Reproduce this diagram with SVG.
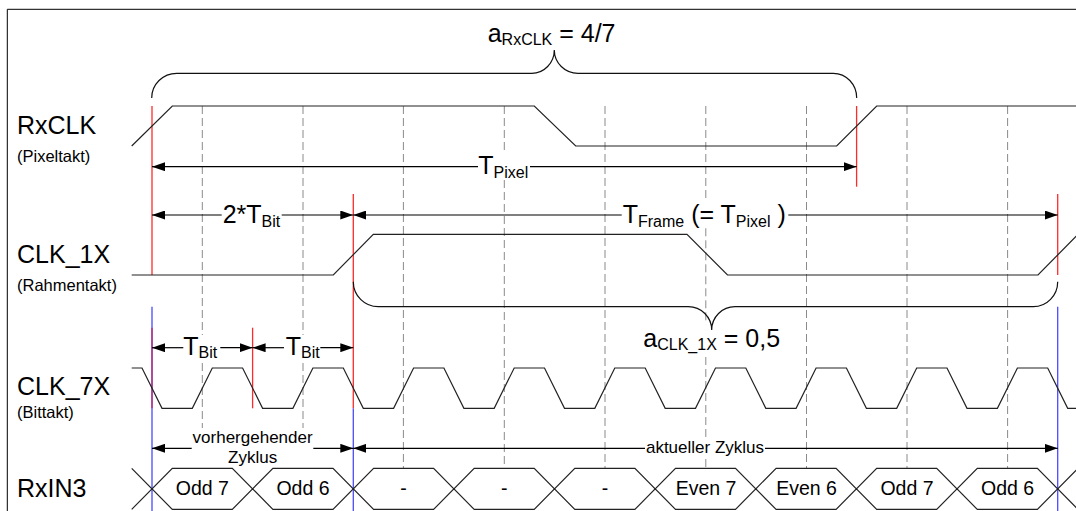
<svg xmlns="http://www.w3.org/2000/svg" width="1076" height="511" viewBox="0 0 1076 511">
<style>
text{font-family:"Liberation Sans",Arial,sans-serif;fill:#000}
.big{font-size:25px}
.sm{font-size:16.5px}
.sub{font-size:16px}
.mid{font-size:17px}
.hex{font-size:19.5px}
.sig{fill:none;stroke:#222;stroke-width:1.2;stroke-linejoin:miter}
.grid{fill:none;stroke:#8a8a8a;stroke-width:1;stroke-dasharray:8 4}
.red{stroke:#ff2a2a;stroke-width:1.3;fill:none}
.blue{stroke:#4a4aff;stroke-width:1.3;fill:none}
.mix{stroke:#c02a6a;stroke-width:1.3;fill:none}
.arr{stroke:#000;stroke-width:1.2;fill:none;marker-end:url(#ah)}
.brace{stroke:#111;stroke-width:1.2;fill:none}
</style>
<defs>
<marker id="ah" markerWidth="13" markerHeight="9" refX="13" refY="4.5" orient="auto" markerUnits="userSpaceOnUse">
<path d="M0,0 L13,4.5 L0,9 z" fill="#000"/>
</marker>
</defs>
<rect width="1076" height="511" fill="#fff"/>
<path d="M7.3,515 V9.3 H1080" fill="none" stroke="#000" stroke-width="1"/>

<g id="grid">
<path class="grid" d="M202.3,106 V335 M202.3,363 V428"/>
<path class="grid" d="M303,106 V335 M303,363 V428"/>
<path class="grid" d="M403.4,106 V468.3"/>
<path class="grid" d="M504.3,106 V150 M504.3,180 V468.3"/>
<path class="grid" d="M605,106 V468.3"/>
<path class="grid" d="M705.8,106 V201.7 M705.8,228.3 V323 M705.8,357 V438 M705.8,459 V468.3"/>
<path class="grid" d="M806.5,106 V468.3"/>
<path class="grid" d="M907,106 V468.3"/>
<path class="grid" d="M1007.6,106 V468.3"/>
</g>

<g id="markers-vertical">
<path class="blue" d="M152,306.7 V511"/>
<path class="blue" d="M353.3,408.3 V511"/>
<path class="blue" d="M1057.7,306.7 V511"/>
<path class="red" d="M152,106 V275"/>
<path class="mix" d="M152,327.7 V408.3"/>
<path class="red" d="M252.6,327.7 V408.3"/>
<path class="red" d="M353.3,194 V408.3"/>
<path class="red" d="M856.6,106 V186.7"/>
<path class="red" d="M1057.7,194 V275"/>
</g>

<g id="rxclk">
<text class="big" x="17" y="134">RxCLK</text>
<text class="sm" x="17" y="161.5">(Pixeltakt)</text>
<path class="sig" d="M131.7,146 L172.3,106 H534.3 L575.7,146 H836.7 L876.7,106 H1080"/>
</g>

<g id="clk1x">
<text class="big" x="17" y="263.3">CLK_1X</text>
<text class="sm" x="17" y="290.5">(Rahmentakt)</text>
<path class="sig" d="M131.7,275 H333.3 L373.3,234.3 H687 L727.5,275 H1038 L1078,234.3"/>
</g>

<g id="clk7x">
<text class="big" x="17" y="395">CLK_7X</text>
<text class="sm" x="17" y="418.3">(Bittakt)</text>
<path class="sig" d="M131.7,368 H142 L162,408.3 H192.3 L212.3,368 H242.6 L262.6,408.3 H292.9 L312.9,368 H343.3 L363.3,408.3 H393.6 L413.6,368 H443.9 L463.9,408.3 H494.2 L514.2,368 H544.5 L564.5,408.3 H594.8 L614.8,368 H645.2 L665.2,408.3 H695.5 L715.5,368 H745.8 L765.8,408.3 H796.1 L816.1,368 H846.4 L866.4,408.3 H896.7 L916.7,368 H947 L967,408.3 H997.4 L1017.4,368 H1047.7 L1067.7,408.3 H1080"/>
</g>

<g id="rxin3">
<text class="big" x="17" y="496.7">RxIN3</text>
<path class="sig" d="M131.7,468.3 L152,488.8 L172.3,468.3 H232.3 L252.6,488.8 L272.9,468.3 H333 L353.3,488.8 L373.6,468.3 H433.6 L453.9,488.8 L474.2,468.3 H534.2 L554.5,488.8 L574.8,468.3 H634.9 L655.2,488.8 L675.5,468.3 H735.5 L755.8,488.8 L776.1,468.3 H836.1 L856.4,488.8 L876.7,468.3 H936.7 L957,488.8 L977.3,468.3 H1037.4 L1057.7,488.8 L1078,468.3"/>
<path class="sig" d="M131.7,509.3 L152,488.8 L172.3,509.3 H232.3 L252.6,488.8 L272.9,509.3 H333 L353.3,488.8 L373.6,509.3 H433.6 L453.9,488.8 L474.2,509.3 H534.2 L554.5,488.8 L574.8,509.3 H634.9 L655.2,488.8 L675.5,509.3 H735.5 L755.8,488.8 L776.1,509.3 H836.1 L856.4,488.8 L876.7,509.3 H936.7 L957,488.8 L977.3,509.3 H1037.4 L1057.7,488.8 L1078,509.3"/>
<g text-anchor="middle" class="hex">
<text x="202.3" y="495">Odd 7</text>
<text x="303" y="495">Odd 6</text>
<text x="403.4" y="495">-</text>
<text x="504.3" y="495">-</text>
<text x="605" y="495">-</text>
<text x="706" y="495">Even 7</text>
<text x="806.5" y="495">Even 6</text>
<text x="907" y="495">Odd 7</text>
<text x="1007.6" y="495">Odd 6</text>
</g>
</g>

<g id="connectors">
<path class="brace" d="M151.7,98 A25,24.7 0 0 1 176.7,73.3 H531.7 A22.6,23.3 0 0 0 554.3,50 A23.7,23.3 0 0 0 578,73.3 H833.3 A23.4,24.7 0 0 1 856.7,98"/>
<path class="brace" d="M353.3,281.7 A25,25 0 0 0 378.3,306.7 H688.3 A23.4,23.3 0 0 1 711.7,330 A23.3,23.3 0 0 1 735,306.7 H1033.3 A24.4,25 0 0 0 1057.7,281.7"/>

<line class="arr" x1="478" y1="166.7" x2="152" y2="166.7"/>
<line class="arr" x1="530" y1="166.7" x2="856.6" y2="166.7"/>
<line class="arr" x1="221.7" y1="215" x2="152" y2="215"/>
<line class="arr" x1="281.7" y1="215" x2="353.3" y2="215"/>
<line class="arr" x1="621.7" y1="215" x2="353.3" y2="215"/>
<line class="arr" x1="788.3" y1="215" x2="1057.7" y2="215"/>
<line class="arr" x1="183.3" y1="347.7" x2="152" y2="347.7"/>
<line class="arr" x1="220.3" y1="347.7" x2="252.6" y2="347.7"/>
<line class="arr" x1="284" y1="347.7" x2="252.6" y2="347.7"/>
<line class="arr" x1="320.3" y1="347.7" x2="353.3" y2="347.7"/>
<line class="arr" x1="191.7" y1="448.3" x2="152" y2="448.3"/>
<line class="arr" x1="313.3" y1="448.3" x2="353.3" y2="448.3"/>
<line class="arr" x1="645" y1="448.3" x2="353.3" y2="448.3"/>
<line class="arr" x1="765" y1="448.3" x2="1057.7" y2="448.3"/>
</g>

<g id="labels">
<text class="big" x="487.7" y="41.7">a<tspan class="sub" dy="3.3">RxCLK</tspan><tspan dy="-3.3"> = 4/7</tspan></text>
<text class="big" x="478.3" y="174">T<tspan class="sub" dy="3.5">Pixel</tspan></text>
<text class="big" x="222.7" y="223.3">2*T<tspan class="sub" dy="3.5">Bit</tspan></text>
<text class="big" x="622.7" y="223.3">T<tspan class="sub" dy="3.5">Frame</tspan><tspan dy="-3.5"> (= T</tspan><tspan class="sub" dy="3.5">Pixel</tspan><tspan dy="-3.5"> )</tspan></text>
<text class="big" x="183.3" y="355">T<tspan class="sub" dy="3.3">Bit</tspan></text>
<text class="big" x="285.7" y="355">T<tspan class="sub" dy="3.3">Bit</tspan></text>
<text class="big" x="643.3" y="346.7">a<tspan class="sub" dy="3.3">CLK_1X</tspan><tspan dy="-3.3"> = 0,5</tspan></text>
<text class="mid" x="252.6" y="443.3" text-anchor="middle">vorhergehender</text>
<text class="mid" x="252.6" y="462.8" text-anchor="middle">Zyklus</text>
<text class="mid" x="705" y="453.3" text-anchor="middle">aktueller Zyklus</text>
</g>
</svg>
